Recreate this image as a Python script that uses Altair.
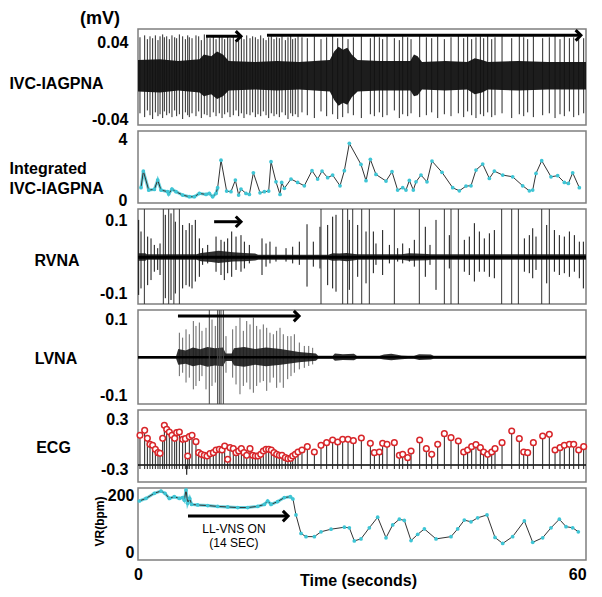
import altair as alt
import pandas as pd

# ---------------- data ----------------
# heart beats (R-peaks), seconds, and ECG R-peak amplitude (mV)
beat_t = [0.27,0.91,1.28,1.64,2.00,2.37,2.73,3.01,3.37,3.60,
          3.92,4.28,4.64,5.01,5.28,5.65,6.10,6.47,6.79,7.01,
          7.38,7.92,8.29,8.65,9.06,9.43,9.84,10.29,10.66,11.11,
          11.48,11.84,12.25,12.57,13.02,13.39,13.75,14.12,14.48,14.85,
          15.30,15.66,16.03,16.39,16.76,17.12,17.49,17.85,18.21,18.58,
          18.94,19.31,19.67,20.13,20.49,20.86,21.13,21.49,21.86,22.40,
          23.13,24.09,25.00,25.77,26.59,27.28,27.96,28.69,29.42,30.51,
          31.74,32.29,32.97,33.42,34.02,35.02,35.70,36.16,36.84,37.30,
          38.48,39.39,40.12,40.94,41.85,42.76,43.76,44.49,45.03,45.58,
          46.17,46.77,47.22,47.77,48.32,48.77,49.73,51.05,52.09,52.69,
          53.23,54.01,55.28,56.19,56.97,57.65,58.24,58.93,59.52,60.20,
          60.88]
ecg_r = [0.104,0.164,0.068,-0.004,-0.016,-0.064,-0.104,-0.112,0.068,0.224,
         0.176,0.144,0.104,0.068,0.136,0.144,0.056,0.064,-0.144,0.088,
         0.104,0.028,-0.104,-0.124,-0.136,-0.144,-0.116,-0.104,-0.072,-0.064,
         -0.072,-0.024,-0.184,-0.044,-0.056,-0.104,-0.084,-0.056,-0.104,-0.136,
         -0.056,-0.136,-0.144,-0.144,-0.124,-0.084,-0.064,-0.064,-0.072,-0.104,
         -0.124,-0.136,-0.136,-0.164,-0.176,-0.172,-0.144,-0.124,-0.096,-0.072,
         -0.032,-0.096,-0.016,0.016,0.048,0.024,0.056,0.056,0.040,0.072,
         0.008,-0.104,-0.096,0.008,-0.004,0.016,-0.136,-0.124,-0.164,-0.084,
         0.048,-0.056,-0.124,-0.004,0.124,0.076,0.036,-0.096,-0.072,-0.032,
         -0.008,-0.044,-0.096,-0.124,-0.096,-0.056,0.016,0.156,0.064,-0.096,
         -0.104,0.016,0.096,0.116,-0.072,-0.044,-0.016,-0.004,-0.004,-0.072,
         -0.032]
ecg_baseline = [-0.252]
ecg_s_wave = -0.30
ecg_artifact_t = [6.65]
ecg_artifact_lo = [-0.37]

# IVC-IAGPNA: ECG-synchronous spikes (mV) and noise envelope
ivc_spk_hi = [0.046,0.048,0.044,0.047,0.045,0.048,0.043,0.047,0.049,0.046,
              0.047,0.044,0.048,0.046,0.045,0.049,0.047,0.044,0.048,0.046,
              0.045,0.048,0.047,0.043,0.049,0.046,0.045,0.047,0.044,0.048,
              0.046,0.044,0.047,0.045,0.048,0.043,0.046,0.047,0.044,0.048,
              0.045,0.047,0.046,0.044,0.048,0.045,0.043,0.046,0.047,0.044,
              0.046,0.045,0.047,0.043,0.046,0.048,0.044,0.045,0.047,0.046,
              0.045,0.047,0.044,0.046,0.048,0.045,0.047,0.044,0.046,0.047,
              0.045,0.048,0.046,0.044,0.047,0.045,0.043,0.047,0.046,0.044,
              0.048,0.046,0.045,0.047,0.044,0.046,0.048,0.045,0.047,0.044,
              0.046,0.047,0.045,0.048,0.044,0.046,0.047,0.045,0.048,0.046,
              0.044,0.047,0.045,0.046,0.048,0.044,0.047,0.045,0.046,0.048,
              0.045]
ivc_spk_lo = [-0.034,-0.038,-0.031,-0.036,-0.040,-0.033,-0.037,-0.035,-0.039,-0.032,
              -0.036,-0.034,-0.038,-0.031,-0.037,-0.035,-0.040,-0.033,-0.036,-0.038,
              -0.034,-0.037,-0.032,-0.039,-0.035,-0.036,-0.038,-0.033,-0.037,-0.034,
              -0.039,-0.035,-0.033,-0.038,-0.036,-0.031,-0.037,-0.034,-0.039,-0.035,
              -0.036,-0.033,-0.038,-0.035,-0.037,-0.032,-0.036,-0.039,-0.034,-0.037,
              -0.035,-0.038,-0.033,-0.036,-0.040,-0.034,-0.037,-0.035,-0.038,-0.033,
              -0.036,-0.039,-0.032,-0.037,-0.035,-0.040,-0.038,-0.034,-0.036,-0.039,
              -0.035,-0.037,-0.033,-0.038,-0.036,-0.031,-0.039,-0.035,-0.037,-0.034,
              -0.038,-0.036,-0.033,-0.039,-0.035,-0.037,-0.034,-0.038,-0.032,-0.036,
              -0.039,-0.035,-0.037,-0.033,-0.038,-0.036,-0.034,-0.039,-0.035,-0.037,
              -0.033,-0.038,-0.036,-0.034,-0.039,-0.035,-0.037,-0.032,-0.038,-0.036,
              -0.034]
ivc_band_t = [0, 3.0, 5.5, 8.4, 9.0, 10.0, 10.8, 11.6, 12.4, 16.0, 19.0, 22.0, 26.2, 26.8,
              27.4, 28.0, 28.6, 29.2, 30.0, 33.0, 37.2, 37.7, 38.2, 38.8, 42.0, 45.0,
              46.0, 47.0, 47.8, 52.0, 56.0, 61.2]
ivc_band_hi = [0.022, 0.023, 0.021, 0.023, 0.028, 0.026, 0.031, 0.028, 0.021, 0.020, 0.021,
               0.020, 0.022, 0.031, 0.036, 0.033, 0.035, 0.028, 0.022, 0.021, 0.021, 0.028,
               0.026, 0.020, 0.021, 0.020, 0.024, 0.022, 0.020, 0.021, 0.020, 0.020]
ivc_band_lo = [-0.011, -0.012, -0.010, -0.012, -0.016, -0.014, -0.019, -0.016, -0.010, -0.009,
               -0.010, -0.009, -0.011, -0.020, -0.026, -0.023, -0.025, -0.017, -0.011, -0.010,
               -0.010, -0.016, -0.015, -0.009, -0.010, -0.009, -0.014, -0.012, -0.009, -0.010,
               -0.009, -0.009]

# Integrated IVC-IAGPNA
int_t = [0.41,0.73,1.46,2.23,2.69,3.14,4.05,4.19,4.64,5.19,6.10,7.01,7.70,8.38,9.29,9.74,
         10.20,10.66,10.88,11.34,12.11,12.70,13.30,13.75,14.07,14.75,15.21,15.76,16.67,17.26,
         17.85,18.17,18.85,19.40,19.63,19.99,20.90,21.81,22.72,23.77,24.54,25.14,25.91,26.59,
         27.60,28.19,28.87,30.46,31.15,31.74,32.51,33.88,34.70,35.47,36.16,36.61,37.07,37.61,
         37.98,38.66,39.48,40.16,41.53,42.99,43.90,44.81,45.49,46.17,47.09,48.00,48.68,49.82,
         51.18,52.55,53.46,53.92,54.37,55.15,56.42,57.33,58.24,58.79,59.38,60.29]
int_v = [0.83,1.92,0.68,0.72,1.33,0.68,0.57,0.42,0.74,0.57,0.35,0.24,0.24,0.46,0.39,0.46,
         0.24,0.46,0.83,2.64,0.61,0.57,1.33,0.35,0.74,0.46,0.39,1.81,0.50,0.57,
         0.61,2.54,1.22,0.39,1.18,0.79,1.40,1.18,0.96,1.95,1.40,1.92,1.49,1.66,
         0.96,1.95,3.74,2.36,1.29,2.69,1.70,1.27,1.88,0.68,0.83,0.68,1.31,0.68,
         1.22,1.66,1.22,2.58,1.84,0.83,0.63,0.94,0.96,1.99,2.38,1.44,1.92,1.66,
         1.55,0.96,0.63,0.68,1.77,2.60,1.55,1.62,1.18,1.11,1.81,0.83]

# RVNA
rvna_full_t = [0.87, 3.46, 4.19, 4.90, 5.65, 25.00, 27.96, 28.64, 29.33, 30.56, 31.60, 35.02,
               38.43, 41.85, 42.76, 43.76, 49.68, 51.05, 51.96, 55.15, 56.19]
rvna_spk_t = [0.09,0.41,1.32,1.78,2.23,2.69,3.01,3.73,4.51,5.10,6.10,6.56,7.01,7.38,7.83,8.38,
              8.83,9.52,10.66,11.34,11.79,12.25,12.80,13.39,14.07,14.53,15.21,16.94,17.49,18.03,
              18.85,20.22,21.13,22.04,23.09,23.95,24.86,25.91,26.59,27.05,28.87,30.01,31.15,32.15,
              32.51,33.42,34.34,35.47,36.16,37.07,37.75,39.25,39.89,40.71,42.53,44.58,45.26,45.95,
              46.63,47.31,48.00,48.68,52.78,53.46,53.92,54.37,55.83,56.88,57.56,58.24,58.93,59.61,
              60.29,60.84]
rvna_spk_hi = [0.103,0.071,0.057,0.052,0.034,0.025,0.038,0.117,0.121,0.098,0.089,0.075,0.094,
               0.089,0.103,0.052,0.025,0.034,0.057,0.048,0.043,0.052,0.071,0.057,0.061,0.043,
               0.034,0.052,0.038,0.043,0.029,0.025,0.029,0.043,0.091,0.043,0.084,0.089,0.112,
               0.117,0.103,0.089,0.071,0.071,0.038,0.075,0.034,0.025,0.038,0.025,0.048,0.084,
               0.034,0.103,0.061,0.048,0.057,0.094,0.071,0.052,0.066,0.075,0.052,0.061,0.080,
               0.057,0.089,0.075,0.061,0.057,0.071,0.061,0.043,0.043]
rvna_spk_lo = [-0.104,-0.086,-0.077,-0.063,-0.040,-0.035,-0.049,-0.113,-0.118,-0.100,-0.086,
               -0.077,-0.081,-0.086,-0.067,-0.054,-0.021,-0.017,-0.040,-0.049,-0.063,-0.044,
               -0.054,-0.035,-0.040,-0.031,-0.017,-0.049,-0.026,-0.017,-0.012,-0.012,-0.017,
               -0.021,-0.081,-0.026,-0.031,-0.077,-0.086,-0.095,-0.090,-0.054,-0.072,-0.044,
               -0.021,-0.049,-0.017,-0.012,-0.017,-0.012,-0.026,-0.054,-0.021,-0.090,-0.031,
               -0.040,-0.049,-0.067,-0.040,-0.040,-0.054,-0.058,-0.040,-0.044,-0.058,-0.035,
               -0.072,-0.040,-0.049,-0.044,-0.054,-0.040,-0.058,-0.086]
rvna_band_t = [0, 1.0, 1.2, 8.0, 8.6, 10.0, 11.0, 12.0, 13.0, 14.5, 16.0, 16.4, 26.0, 26.6,
               27.5, 28.5, 29.6, 30.0, 36.0, 37.0, 38.0, 39.5, 40.0, 61.2]
rvna_band_hi = [0.011,0.011,0.008,0.008,0.012,0.015,0.018,0.016,0.014,0.012,0.010,0.007,
                0.007,0.011,0.010,0.012,0.009,0.008,0.008,0.011,0.010,0.009,0.008,0.008]
rvna_band_lo = [-0.010,-0.010,-0.007,-0.007,-0.011,-0.013,-0.016,-0.014,-0.012,-0.011,-0.009,
                -0.007,-0.007,-0.010,-0.009,-0.011,-0.008,-0.007,-0.007,-0.010,-0.009,-0.008,
                -0.007,-0.007]

# LVNA
lvna_full_t = [9.74, 10.88, 11.11, 11.34, 11.66]
lvna_spk_t = [5.65,6.10,6.56,7.01,7.56,7.92,8.38,8.74,9.29,10.11,10.56,12.02,12.93,13.39,13.93,
              14.39,14.85,15.30,15.76,16.21,16.67,17.12,17.58,18.03,18.49,18.94,19.40,19.85,
              20.45,20.90,21.36,22.04,22.72,23.32,23.86]
lvna_spk_hi = [0.065,0.052,0.074,0.061,0.096,0.083,0.092,0.070,0.078,0.100,0.083,0.056,0.074,
               0.083,0.105,0.070,0.096,0.087,0.105,0.083,0.074,0.087,0.078,0.065,0.061,0.070,
               0.078,0.061,0.056,0.056,0.061,0.039,0.030,0.030,0.025]
lvna_spk_lo = [-0.050,-0.041,-0.067,-0.054,-0.085,-0.076,-0.063,-0.050,-0.085,-0.076,-0.067,
               -0.041,-0.054,-0.072,-0.098,-0.076,-0.067,-0.085,-0.094,-0.076,-0.067,-0.063,
               -0.089,-0.067,-0.054,-0.081,-0.067,-0.081,-0.058,-0.050,-0.041,-0.032,-0.028,
               -0.023,-0.019]
lvna_band_t = [0, 5.2, 5.5, 6.5, 7.5, 8.5, 9.5, 10.5, 11.6, 12.0, 12.8, 13.1, 14.5, 16.0,
               17.5, 19.5, 22.0, 24.3, 24.6, 26.6, 26.9, 28.0, 29.5, 29.9, 33.0, 33.6,
               34.6, 36.0, 36.9, 37.7, 38.4, 40.0, 40.4, 61.2]
lvna_band_hi = [0.003,0.003,0.022,0.018,0.026,0.021,0.027,0.024,0.026,0.010,0.010,0.024,
                0.027,0.022,0.026,0.022,0.014,0.010,0.004,0.004,0.010,0.008,0.009,0.004,
                0.004,0.007,0.009,0.005,0.004,0.004,0.008,0.007,0.004,0.004]
lvna_band_lo = [-0.003,-0.003,-0.020,-0.017,-0.024,-0.020,-0.025,-0.022,-0.024,-0.010,-0.010,
                -0.022,-0.025,-0.020,-0.024,-0.020,-0.013,-0.009,-0.004,-0.004,-0.009,-0.007,
                -0.008,-0.004,-0.004,-0.006,-0.008,-0.005,-0.004,-0.004,-0.007,-0.006,-0.004,
                -0.004]

# Ventricular rate (bpm)
vr_t = [0.18,1.09,2.23,3.14,3.69,4.28,4.96,5.65,6.10,6.33,6.56,6.79,7.06,7.33,8.15,9.52,10.88,
        12.25,13.62,14.98,16.35,17.26,17.71,18.17,19.08,19.99,20.81,21.17,21.58,22.27,22.95,
        24.09,25.00,26.37,28.19,28.87,29.55,30.46,31.60,32.74,33.88,34.79,35.70,36.38,37.30,
        38.21,39.12,40.71,42.76,43.67,44.58,45.49,46.40,47.68,48.77,49.82,51.18,52.78,53.92,
        55.28,56.42,57.56,58.47,59.38,60.15]
vr_v = [179,188,206,214,206,188,194,188,191,182,218,171,188,167,165,163,160,158,156,156,
        160,167,179,167,177,191,194,186,130,65,54,54,71,80,87,85,39,46,85,122,
        50,95,115,111,40,62,81,46,54,81,112,106,120,130,51,30,54,109,34,50,
        85,115,89,85,71]

# stimulation arrows (panel, start s, end s, level) and label
arrow_panel = ["ivc", "ivc", "rvna", "lvna", "vr"]
arrow_t0 = [9.29, 17.62, 10.40, 5.46, 6.83]
arrow_t1 = [14.07, 60.50, 14.07, 22.00, 20.50]
arrow_v = [0.047, 0.048, 0.098, 0.109, 126]
stim_label = ["LL-VNS ON", "(14 SEC)"]
stim_label_t = [13.1, 13.1]
stim_label_v = [81, 33]

# ---------------- frames ----------------
n = min(len(beat_t), len(ecg_r), len(ivc_spk_hi), len(ivc_spk_lo))
df_beats = pd.DataFrame({"t": beat_t[:n], "r": ecg_r[:n], "s": [ecg_s_wave] * n,
                         "hi": ivc_spk_hi[:n], "lo": ivc_spk_lo[:n]})
df_ivc_band = pd.DataFrame({"t": ivc_band_t, "hi": ivc_band_hi, "lo": ivc_band_lo})
df_int = pd.DataFrame({"t": int_t, "v": int_v})
df_rvna_full = pd.DataFrame({"t": rvna_full_t, "hi": [1.0] * len(rvna_full_t),
                             "lo": [-1.0] * len(rvna_full_t)})
df_rvna_spk = pd.DataFrame({"t": rvna_spk_t, "hi": rvna_spk_hi, "lo": rvna_spk_lo})
df_rvna_band = pd.DataFrame({"t": rvna_band_t, "hi": rvna_band_hi, "lo": rvna_band_lo})
df_lvna_full = pd.DataFrame({"t": lvna_full_t, "hi": [1.0] * len(lvna_full_t),
                             "lo": [-1.0] * len(lvna_full_t)})
df_lvna_spk = pd.DataFrame({"t": lvna_spk_t, "hi": lvna_spk_hi, "lo": lvna_spk_lo})
df_lvna_band = pd.DataFrame({"t": lvna_band_t, "hi": lvna_band_hi, "lo": lvna_band_lo})
df_vr = pd.DataFrame({"t": vr_t, "v": vr_v})
df_arrows = pd.DataFrame({"panel": arrow_panel, "t0": arrow_t0, "t1": arrow_t1, "v": arrow_v})
df_stim = pd.DataFrame({"t": stim_label_t, "v": stim_label_v, "label": stim_label})
df_ecg_base = pd.DataFrame({"b": ecg_baseline})
df_ecg_art = pd.DataFrame({"t": ecg_artifact_t, "lo": ecg_artifact_lo, "hi": ecg_baseline})
df_zero = pd.DataFrame({"z": [0.0]})

# ---------------- helpers ----------------
W = 448
CYAN = "#3ec5d5"
xs = alt.Scale(domain=[0, 61.2], nice=False, zero=False)

xax = alt.Axis(values=[0, 60], domain=False, ticks=False, tickSize=0, grid=False,
               labelFontSize=16, labelFontWeight="bold", labelColor="black", labelPadding=6,
               labelFlush=False, title="Time (seconds)", titleFontSize=16,
               titleFontWeight="bold", titleColor="black", titleX=220, titleY=20,
               titleAlign="center", titleBaseline="middle")


def X(field, axis=None):
    return alt.X(f"{field}:Q", scale=xs, axis=axis)


def yaxis(values, title, tx, ty, align="center", pad=10, angle=0, size=16, lh=None):
    kw = dict(values=values, domain=False, ticks=False, tickSize=0, grid=False,
              labelFontSize=16, labelFontWeight="bold", labelColor="black", labelPadding=pad,
              labelExpr="replace(datum.label, '\u2212', '-')",
              title=title, titleAngle=angle, titleAlign=align, titleBaseline="middle",
              titleX=tx, titleY=ty, titleFontSize=size, titleFontWeight="bold",
              titleColor="black")
    if lh:
        kw["titleLineHeight"] = lh
    return alt.Axis(**kw)


def make_Y(domain, axis):
    sc = alt.Scale(domain=domain, nice=False, zero=False)
    return lambda f: alt.Y(f"{f}:Q", scale=sc, axis=axis)


def arrows(panel, Yf, xaxis=None):
    d = df_arrows[df_arrows.panel == panel]
    line = alt.Chart(d).mark_rule(color="black", strokeWidth=3).encode(
        x=X("t0", xaxis), x2="t1", y=Yf("v"))
    head = alt.Chart(d).mark_point(shape="M-1,-1L0,0L-1,1", filled=False, color="black",
                                   strokeWidth=3, size=110, opacity=1).encode(
        x=X("t1", xaxis), y=Yf("v"))
    return [line, head]


# ---------------- panel 1: IVC-IAGPNA ----------------
Y1 = make_Y([-0.0463, 0.0547], yaxis([0.04, -0.04], "IVC-IAGPNA", -82, 54.5, pad=10))
p1 = alt.layer(
    alt.Chart(df_beats).mark_rule(color="#2a2a2a", strokeWidth=1, clip=True).encode(
        x=X("t"), y=Y1("hi"), y2="lo"),
    alt.Chart(df_ivc_band).mark_area(color="#111", opacity=0.95).encode(
        x=X("t"), y=Y1("hi"), y2="lo"),
    *arrows("ivc", Y1),
    alt.Chart(pd.DataFrame({"label": ["(mV)"]})).mark_text(
        fontSize=18, fontWeight="bold", align="center", baseline="middle", color="black").encode(
        x=alt.value(-38), y=alt.value(-10.5), text="label:N"),
).properties(width=W, height=96)

# ---------------- panel 2: Integrated ----------------
Y2 = make_Y([-0.17, 4.55], yaxis([4, 0], ["Integrated", "IVC-IAGPNA"], -129, 37.5,
                                 align="left", pad=11, lh=20))
p2 = alt.layer(
    alt.Chart(df_int).transform_filter("datum.t <= 11").mark_line(
        color=CYAN, strokeWidth=3, opacity=0.8).encode(x=X("t"), y=Y2("v")),
    alt.Chart(df_int).mark_line(color="#333", strokeWidth=1).encode(x=X("t"), y=Y2("v")),
    alt.Chart(df_int).mark_circle(color=CYAN, size=14, opacity=1).encode(x=X("t"), y=Y2("v")),
).properties(width=W, height=72)

# ---------------- panel 3: RVNA ----------------
Y3 = make_Y([-0.129, 0.1331], yaxis([0.1, -0.1], "RVNA", -81.5, 51, pad=11))
p3 = alt.layer(
    alt.Chart(df_rvna_spk).mark_rule(color="#111", strokeWidth=1, clip=True).encode(
        x=X("t"), y=Y3("hi"), y2="lo"),
    alt.Chart(df_rvna_full).mark_rule(color="#333", strokeWidth=1, clip=True).encode(
        x=X("t"), y=Y3("hi"), y2="lo"),
    alt.Chart(df_rvna_band).mark_area(color="#1a1a1a", opacity=0.9).encode(
        x=X("t"), y=Y3("hi"), y2="lo"),
    alt.Chart(df_zero).mark_rule(color="black", strokeWidth=3).encode(y=Y3("z")),
    *arrows("rvna", Y3),
).properties(width=W, height=95)

# ---------------- panel 4: LVNA ----------------
Y4 = make_Y([-0.1238, 0.1252], yaxis([0.1, -0.1], "LVNA", -82.5, 48.5, pad=11))
p4 = alt.layer(
    alt.Chart(df_lvna_spk).mark_rule(color="#666", strokeWidth=1, clip=True).encode(
        x=X("t"), y=Y4("hi"), y2="lo"),
    alt.Chart(df_lvna_band).mark_area(color="#1a1a1a", opacity=0.9).encode(
        x=X("t"), y=Y4("hi"), y2="lo"),
    alt.Chart(df_zero).mark_rule(color="black", strokeWidth=2.5).encode(y=Y4("z")),
    alt.Chart(df_lvna_full).mark_rule(color="#444", strokeWidth=1, clip=True).encode(
        x=X("t"), y=Y4("hi"), y2="lo"),
    *arrows("lvna", Y4),
).properties(width=W, height=94)

# ---------------- panel 5: ECG ----------------
Y5 = make_Y([-0.456, 0.408], yaxis([0.3, -0.3], "ECG", -85, 37, pad=10))
p5 = alt.layer(
    alt.Chart(df_ecg_base).mark_rule(color="black", strokeWidth=1.5).encode(y=Y5("b")),
    alt.Chart(df_beats).mark_rule(color="#222", strokeWidth=1).encode(
        x=X("t"), y=Y5("s"), y2="r"),
    alt.Chart(df_ecg_art).mark_rule(color="#222", strokeWidth=1.2).encode(
        x=X("t"), y=Y5("lo"), y2="hi"),
    alt.Chart(df_beats).mark_point(shape="circle", filled=True, fill="white", stroke="#d8262a",
                                   strokeWidth=1.5, size=32, opacity=1).encode(
        x=X("t"), y=Y5("r")),
).properties(width=W, height=72)

# ---------------- panel 6: VR ----------------
Y6 = make_Y([-28, 224.6], yaxis([200, 0], "VR(bpm)", -39, 33, pad=4, angle=270, size=12))
p6 = alt.layer(
    alt.Chart(df_vr).transform_filter("datum.t <= 21.3").mark_line(
        color=CYAN, strokeWidth=3, opacity=0.8).encode(x=X("t", xax), y=Y6("v")),
    alt.Chart(df_vr).mark_line(color="#333", strokeWidth=1).encode(x=X("t", xax), y=Y6("v")),
    alt.Chart(df_vr).mark_circle(color=CYAN, size=14, opacity=1).encode(
        x=X("t", xax), y=Y6("v")),
    *arrows("vr", Y6, xax),
    alt.Chart(df_stim).mark_text(fontSize=12, color="black", align="center",
                                 baseline="middle").encode(
        x=X("t", xax), y=Y6("v"), text="label:N"),
).properties(width=W, height=72)

chart = alt.vconcat(p1, p2, p3, p4, p5, p6, spacing=6, bounds="flush").properties(
    padding=0, background="white"
).configure(font="Liberation Sans").configure_view(stroke="#7f7f7f", strokeWidth=1.5)

chart.save("out.html", embed_options={"renderer": "svg", "actions": False})
